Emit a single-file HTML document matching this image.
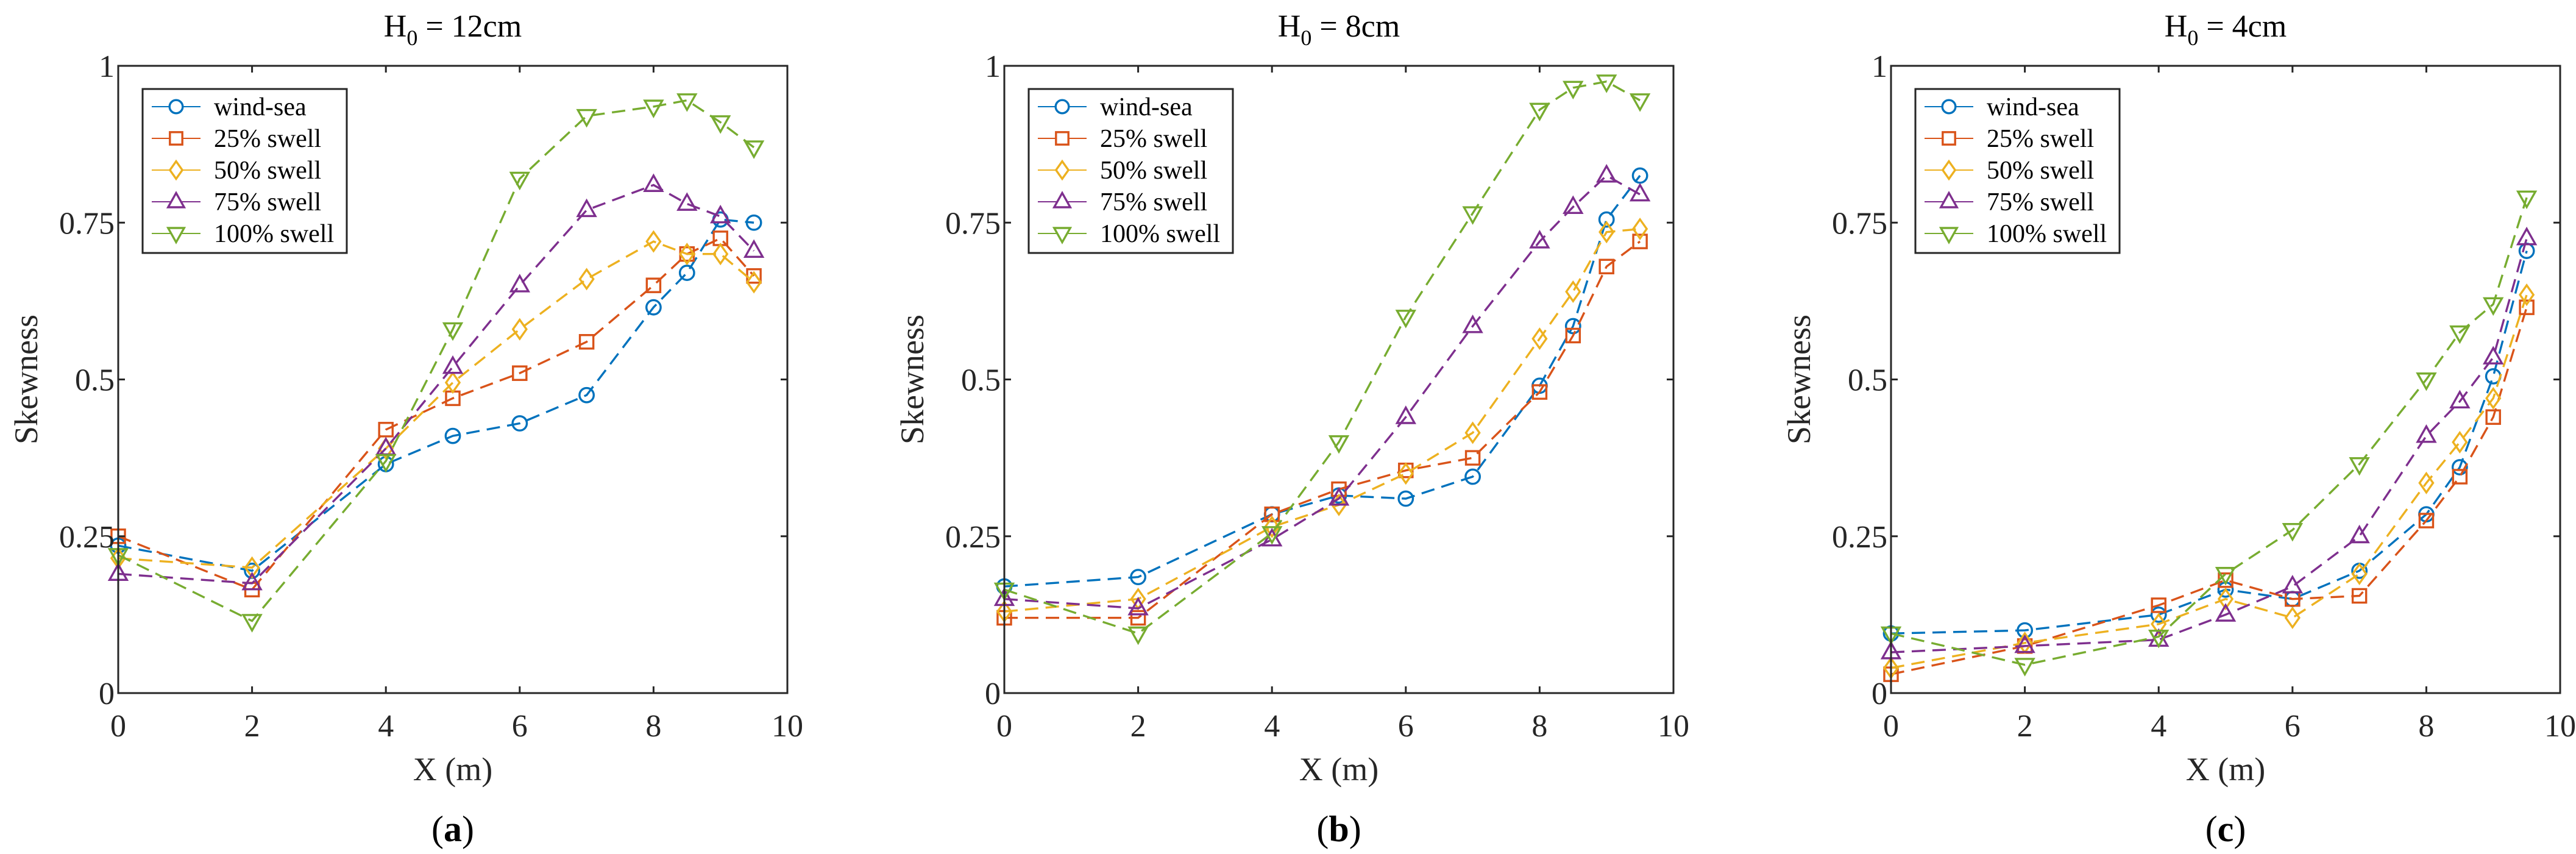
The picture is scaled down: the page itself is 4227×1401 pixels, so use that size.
<!DOCTYPE html>
<html><head><meta charset="utf-8">
<style>
html,body{margin:0;padding:0;background:#fff;}
svg, svg text{font-family:"Liberation Serif","DejaVu Serif","Times New Roman",serif;}
</style></head>
<body>
<svg id="fig" width="4227" height="1396" viewBox="0 0 4227 1396" xmlns="http://www.w3.org/2000/svg" font-family="Liberation Serif, DejaVu Serif, serif"></svg>
<script>
const xValues = [0, 2, 4, 5, 6, 7, 8, 8.5, 9, 9.5];
const seriesNames = ["wind-sea", "25% swell", "50% swell", "75% swell", "100% swell"];
const xTicks = [0, 2, 4, 6, 8, 10];
const yTicks = [0, 0.25, 0.5, 0.75, 1];
const yTickLabels = ["0", "0.25", "0.5", "0.75", "1"];
const panelTitles = ["12cm", "8cm", "4cm"];
const panelLetters = ["a", "b", "c"];
const a_wind = [0.235, 0.195, 0.365, 0.41, 0.43, 0.475, 0.615, 0.67, 0.755, 0.75];
const a_s25 = [0.25, 0.165, 0.42, 0.47, 0.51, 0.56, 0.65, 0.70, 0.725, 0.665];
const a_s50 = [0.215, 0.2, 0.39, 0.495, 0.58, 0.66, 0.72, 0.70, 0.70, 0.655];
const a_s75 = [0.19, 0.175, 0.39, 0.52, 0.65, 0.77, 0.81, 0.78, 0.76, 0.705];
const a_s100 = [0.22, 0.115, 0.37, 0.58, 0.82, 0.92, 0.935, 0.945, 0.91, 0.87];
const b_wind = [0.17, 0.185, 0.285, 0.315, 0.31, 0.345, 0.49, 0.585, 0.755, 0.825];
const b_s25 = [0.12, 0.12, 0.285, 0.325, 0.355, 0.375, 0.48, 0.57, 0.68, 0.72];
const b_s50 = [0.13, 0.15, 0.265, 0.30, 0.35, 0.415, 0.565, 0.64, 0.735, 0.74];
const b_s75 = [0.15, 0.135, 0.245, 0.31, 0.44, 0.585, 0.72, 0.775, 0.825, 0.795];
const b_s100 = [0.165, 0.095, 0.255, 0.40, 0.60, 0.765, 0.93, 0.965, 0.975, 0.945];
const c_wind = [0.095, 0.10, 0.125, 0.165, 0.15, 0.195, 0.285, 0.36, 0.505, 0.705];
const c_s25 = [0.03, 0.075, 0.14, 0.18, 0.15, 0.155, 0.275, 0.345, 0.44, 0.615];
const c_s50 = [0.04, 0.08, 0.11, 0.15, 0.12, 0.19, 0.335, 0.40, 0.47, 0.635];
const c_s75 = [0.065, 0.075, 0.085, 0.125, 0.17, 0.25, 0.41, 0.465, 0.535, 0.725];
const c_s100 = [0.095, 0.045, 0.09, 0.19, 0.26, 0.365, 0.50, 0.575, 0.62, 0.79];

const panelData = [[a_wind,a_s25,a_s50,a_s75,a_s100],[b_wind,b_s25,b_s50,b_s75,b_s100],[c_wind,c_s25,c_s50,c_s75,c_s100]];
const colors = ["#0072BD","#D95319","#EDB120","#7E2F8E","#77AC30"];
const markers = ["circle","square","diamond","up","down"];
const lefts = [194, 1648, 3103];
const W = 1098, TOP = 108, H = 1029;
const FONT = "Liberation Serif, DejaVu Serif, serif";
const NS = "http://www.w3.org/2000/svg";
const svg = document.getElementById("fig");
function mk(tag, attrs, parent){
  const e = document.createElementNS(NS, tag);
  for (const k in attrs) e.setAttribute(k, attrs[k]);
  if (tag === "text") e.setAttribute("font-family", FONT);
  (parent||svg).appendChild(e);
  return e;
}
function tspan(parent, txt, attrs){
  const t = document.createElementNS(NS, "tspan");
  for (const k in (attrs||{})) t.setAttribute(k, attrs[k]);
  t.textContent = txt;
  parent.appendChild(t);
  return t;
}
function marker(g, type, cx, cy, col, r){
  let e;
  if (type==="circle") e = mk("circle",{cx:cx,cy:cy,r:r*0.9},g);
  else if (type==="square") e = mk("rect",{x:cx-r*0.85,y:cy-r*0.85,width:r*1.7,height:r*1.7},g);
  else if (type==="diamond") e = mk("polygon",{points:`${cx},${cy-r*1.2} ${cx+r*0.85},${cy} ${cx},${cy+r*1.2} ${cx-r*0.85},${cy}`},g);
  else if (type==="up") e = mk("polygon",{points:`${cx},${cy-r*1.2} ${cx+r*1.1},${cy+r*0.75} ${cx-r*1.1},${cy+r*0.75}`},g);
  else e = mk("polygon",{points:`${cx},${cy+r*1.2} ${cx+r*1.1},${cy-r*0.75} ${cx-r*1.1},${cy-r*0.75}`},g);
  e.setAttribute("fill","none");
  e.setAttribute("stroke",col);
  e.setAttribute("stroke-width","3.4");
  return e;
}
for (let p=0;p<3;p++){
  const L = lefts[p];
  const xs = v => L + v/10*W;
  const ys = v => TOP + H - v*H;
  const g = mk("g",{});
  
  
  const t = mk("text",{x:L+W/2,y:60,"font-size":52,"text-anchor":"middle",fill:"#000"},g);
  tspan(t, "H");
  tspan(t, "0", {"font-size":36, dy:14});
  tspan(t, " = "+panelTitles[p], {dy:-14});
  
  
  for (let s=0;s<5;s++){
    const sg = mk("g",{},g);
    
    
    const vals = panelData[p][s];
    const pts = xValues.map((x,i)=>xs(x)+","+ys(vals[i])).join(" ");
    mk("polyline",{points:pts,fill:"none",stroke:colors[s],"stroke-width":3.4,"stroke-dasharray":"22,12"},sg);
    xValues.forEach((x,i)=>{
      const m = marker(sg, markers[s], xs(x), ys(vals[i]), colors[s], 13);
      
      
    });
  }
  const box = mk("rect",{x:L,y:TOP,width:W,height:H,fill:"none",stroke:"#262626","stroke-width":3},g);
  
  
  xTicks.forEach(v=>{
    mk("line",{x1:xs(v),x2:xs(v),y1:TOP+H,y2:TOP+H-11,stroke:"#262626","stroke-width":3},g);
    mk("line",{x1:xs(v),x2:xs(v),y1:TOP,y2:TOP+11,stroke:"#262626","stroke-width":3},g);
    const tl = mk("text",{x:xs(v),y:1208,"font-size":52,"text-anchor":"middle",fill:"#262626"},g);
    tl.textContent = v;
    
    
  });
  yTicks.forEach((v,i)=>{
    mk("line",{x1:L,x2:L+11,y1:ys(v),y2:ys(v),stroke:"#262626","stroke-width":3},g);
    mk("line",{x1:L+W,x2:L+W-11,y1:ys(v),y2:ys(v),stroke:"#262626","stroke-width":3},g);
    const tl = mk("text",{x:L-6,y:ys(v)+18,"font-size":52,"text-anchor":"end",fill:"#262626"},g);
    tl.textContent = yTickLabels[i];
    
    
  });
  const xl = mk("text",{x:L+W/2,y:1280,"font-size":54,"text-anchor":"middle",fill:"#262626"},g);
  xl.textContent = "X (m)";
  
  
  const yl = mk("text",{x:0,y:0,"font-size":54,"text-anchor":"middle",fill:"#262626",transform:`translate(${L-133},${TOP+H/2}) rotate(-90)`},g);
  yl.textContent = "Skewness";
  
  
  const pl = mk("text",{x:L+W/2,y:1380,"font-size":60,"text-anchor":"middle",fill:"#000"},g);
  tspan(pl, "(");
  tspan(pl, panelLetters[p], {"font-weight":"bold"});
  tspan(pl, ")");
  
  
  const lg = mk("g",{},g);
  
  
  mk("rect",{x:L+40,y:146,width:335,height:269,fill:"#fff",stroke:"#262626","stroke-width":3},lg);
  for (let s=0;s<5;s++){
    const ey = 175 + s*52;
    const eg = mk("g",{},lg);
    
    
    mk("line",{x1:L+55,x2:L+135,y1:ey,y2:ey,stroke:colors[s],"stroke-width":2},eg);
    const m = marker(eg, markers[s], L+95, ey, colors[s], 12);
    m.setAttribute("fill","#fff");
    const lt = mk("text",{x:L+157,y:ey+14,"font-size":42,fill:"#000"},eg);
    lt.textContent = seriesNames[s];
  }
}
</script>
</body></html>
